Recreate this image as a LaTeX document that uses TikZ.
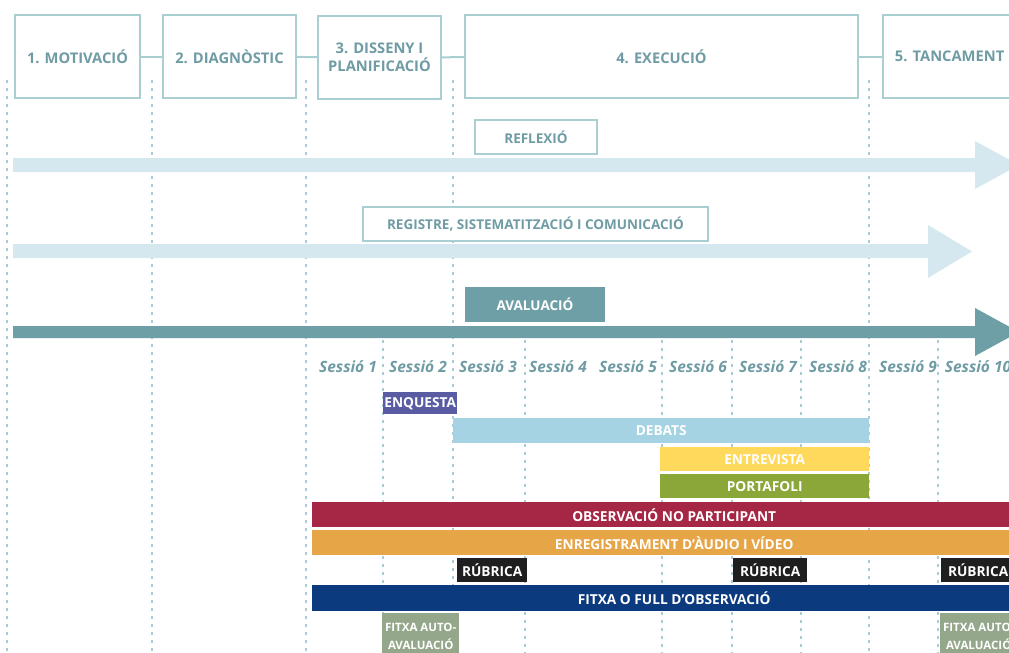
\documentclass[tikz,border=0pt]{standalone}
\usepackage{fontspec}
\setmainfont{Open Sans}
\definecolor{boxline}{HTML}{A9CFD3}
\definecolor{boxtext}{HTML}{6F9CA4}
\definecolor{gridline}{HTML}{A9CCD6}
\definecolor{lightband}{HTML}{D5E8EF}
\definecolor{tealband}{HTML}{6F9FA6}
\definecolor{enqcol}{HTML}{5A5CA3}
\definecolor{debcol}{HTML}{A6D3E3}
\definecolor{entcol}{HTML}{FFD95C}
\definecolor{portcol}{HTML}{8BA73A}
\definecolor{obscol}{HTML}{A62745}
\definecolor{enrcol}{HTML}{E6A546}
\definecolor{rubcol}{HTML}{1F1F1F}
\definecolor{fitcol}{HTML}{0B3A7E}
\definecolor{autocol}{HTML}{95A78B}
\begin{document}
\begin{tikzpicture}[
        x=1pt,y=-1pt,
        phase/.style={draw=boxline,line width=2.2pt,fill=white,text=boxtext,
            font=\bfseries\fontsize{14.7}{18}\selectfont,minimum height=83pt,inner sep=0pt,align=center},
        tag/.style={draw=boxline,line width=2pt,fill=white,text=boxtext,
            font=\bfseries\fontsize{13.5}{15}\selectfont,minimum height=34pt,inner sep=0pt},
        bar/.style={anchor=north west,text=white,font=\bfseries\fontsize{13.7}{15}\selectfont,
            minimum height=25pt,inner sep=0pt},
        session/.style={text=boxtext,font=\bfseries\itshape\fontsize{15.5}{18}\selectfont},
        grid/.style={draw=gridline,line width=1.4pt,dash pattern=on 3pt off 5pt},
        link/.style={draw=boxline,line width=2pt}
    ]
        \useasboundingbox (0,0) rectangle (1009,653);
        \clip (0,0) rectangle (1009,653);

        % Dotted guides
        \foreach \gx in {7,152,306,453,869}
            \draw[grid] (\gx,80) -- (\gx,653);
        \foreach \gx in {383,525,662,732,801,938}
            \draw[grid] (\gx,340) -- (\gx,653);

        % Phases
        \node[phase,minimum width=125pt] (p1) at (77.5,56.5) {1. MOTIVACIÓ};
        \node[phase,minimum width=133pt] (p2) at (229.5,56.5) {2. DIAGNÒSTIC};
        \node[phase,minimum width=123pt] (p3) at (379.5,57.5) {3. DISSENY I\\PLANIFICACIÓ};
        \node[phase,minimum width=393pt] (p4) at (661.5,56.5) {4. EXECUCIÓ};
        \node[phase,minimum width=133pt,anchor=west] (p5) at (882,56.5) {5. TANCAMENT};
        \draw[link] (p1) -- (p2);
        \draw[link] (p2) -- (p3);
        \draw[link] (p3) -- (p4);
        \draw[link] (p4) -- (p5);

        % Big arrows
        \fill[lightband] (13,158) -- (975,158) -- (975,141) -- (1019,165)
            -- (975,189) -- (975,172) -- (13,172) -- cycle;
        \fill[lightband] (13,244) -- (928,244) -- (928,225) -- (972,251.5)
            -- (928,278) -- (928,258) -- (13,258) -- cycle;
        \fill[tealband] (13,326) -- (975,326) -- (975,308) -- (1019,332)
            -- (975,356) -- (975,338) -- (13,338) -- cycle;

        \node[tag,minimum width=122pt] (refl) at (536,137) {REFLEXIÓ};
        \node[tag,minimum width=345pt] (regi) at (535.5,224) {REGISTRE, SISTEMATITZACIÓ I COMUNICACIÓ};
        \node[tag,draw=none,fill=tealband,text=white,minimum width=140pt,minimum height=35pt] (aval) at (535,304.5) {AVALUACIÓ};

        % Sessions
        \foreach \i in {1,...,10}
            \node[session] (s\i) at ({348+70*(\i-1)},367) {Sessió \i};

        % Instruments
        \node[bar,fill=enqcol,minimum width=74pt,minimum height=22pt] (enq) at (383,392) {ENQUESTA};
        \node[bar,fill=debcol,minimum width=416pt] (deb) at (453,418) {DEBATS};
        \node[bar,fill=entcol,minimum width=209pt,minimum height=24pt] (ent) at (660,447) {ENTREVISTA};
        \node[bar,fill=portcol,minimum width=209pt,minimum height=24pt] (port) at (660,474) {PORTAFOLI};
        \node[bar,fill=obscol,minimum width=724pt] (obs) at (312,502) {OBSERVACIÓ NO PARTICIPANT};
        \node[bar,fill=enrcol,minimum width=724pt] (enr) at (312,530) {ENREGISTRAMENT D'ÀUDIO I VÍDEO};
        \node[bar,fill=rubcol,minimum width=70pt,minimum height=24pt] (rub1) at (457,558) {RÚBRICA};
        \node[bar,fill=rubcol,minimum width=74pt,minimum height=24pt] (rub2) at (733,558) {RÚBRICA};
        \node[bar,fill=rubcol,minimum width=74pt,minimum height=24pt] (rub3) at (941,558) {RÚBRICA};
        \node[bar,fill=fitcol,minimum width=724pt,minimum height=26pt] (fit) at (312,585) {FITXA O FULL D'OBSERVACIÓ};
        \node[bar,fill=autocol,minimum width=77pt,minimum height=46pt,align=center,
            font=\bfseries\fontsize{11.5}{18}\selectfont] (auto1) at (382,613) {FITXA AUTO-\\AVALUACIÓ};
        \node[bar,fill=autocol,minimum width=77pt,minimum height=46pt,align=center,
            font=\bfseries\fontsize{11.5}{18}\selectfont] (auto2) at (940,613) {FITXA AUTO-\\AVALUACIÓ};
\end{tikzpicture}
\end{document}
